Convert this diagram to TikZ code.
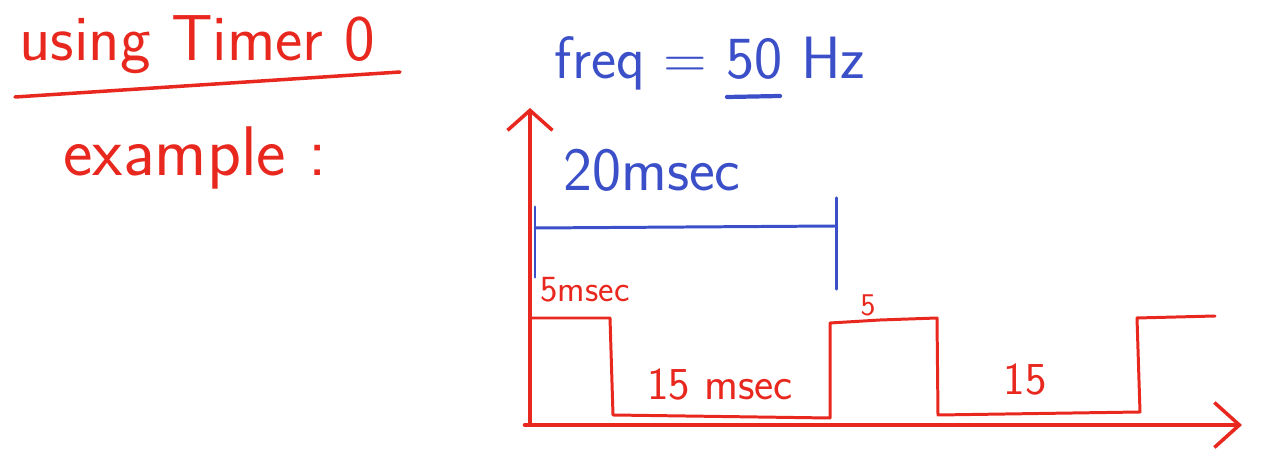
\documentclass[tikz,border=0pt]{standalone}
\usepackage{xcolor,tikz}
\usetikzlibrary{arrows.meta}
\definecolor{penRed}{HTML}{E8281E}
\definecolor{penBlue}{HTML}{3A4FC8}
\tikzset{
  red ink/.style={
    font=\sffamily\fontsize{#1}{#1}\selectfont,
    text=penRed, inner sep=0pt,
  },
  blue ink/.style={
    font=\sffamily\fontsize{#1}{#1}\selectfont,
    text=penBlue, inner sep=0pt,
  },
  axis line/.style={
    draw=penRed, line width=2.3pt, line cap=round,
    -{Straight Barb[length=#1, width=9mm, line width=2pt]},
  },
  wave line/.style={
    draw=penRed, line width=1.7pt, line join=round, line cap=round,
  },
  span line/.style={
    draw=penBlue, line width=1.7pt, line cap=round,
  },
}

\begin{document}
\begin{tikzpicture}[x=0.02cm, y=-0.02cm]
\useasboundingbox (0,0) rectangle (1262,462);

% --- heading on the left ---
\node[red ink=37pt] (title) at (197, 45) {using Timer 0};
\draw[wave line, line width=2pt] (15, 97) -- (400, 72);
\node[red ink=40pt] (example) at (195, 158) {example :};

% --- frequency ---
\node[blue ink=34pt] (freq) at (710, 63) {freq = 50 Hz};
\draw[span line, line width=2.4pt] (727, 97) -- (780, 96);

% --- axes ---
\coordinate (origin) at (530, 425);
\coordinate (ytop) at (530, 108);
\coordinate (xend) at (1242, 425);
\draw[axis line=4mm] (origin) -- (ytop);
\draw[axis line=5mm] ([xshift=-3]origin) -- (xend);

% --- period bracket ---
\node[blue ink=35pt] (period) at (652, 170) {20msec};
\coordinate (pl) at (535, 228);
\coordinate (pr) at (836, 226);
\draw[span line] (pl) -- (pr);
\draw[span line] ([yshift=-28]pl) -- ([yshift=12]pl);
\draw[span line] ([yshift=-36]pr) -- ([yshift=16]pr);

% --- waveform ---
\draw[wave line] (530, 318) -- (610, 318) -- (613, 415) -- (830, 418)
  -- (830, 323) -- (880, 320) -- (937, 318) -- (938, 415) -- (1140, 412)
  -- (1137, 318) -- (1215, 316);
\node[red ink=21pt] (hi1) at (585, 290) {5msec};
\node[red ink=26pt] (lo1) at (720, 385) {15 msec};
\node[red ink=18pt] (hi2) at (868, 305) {5};
\node[red ink=26pt] (lo2) at (1025, 380) {15};

\end{tikzpicture}
\end{document}
